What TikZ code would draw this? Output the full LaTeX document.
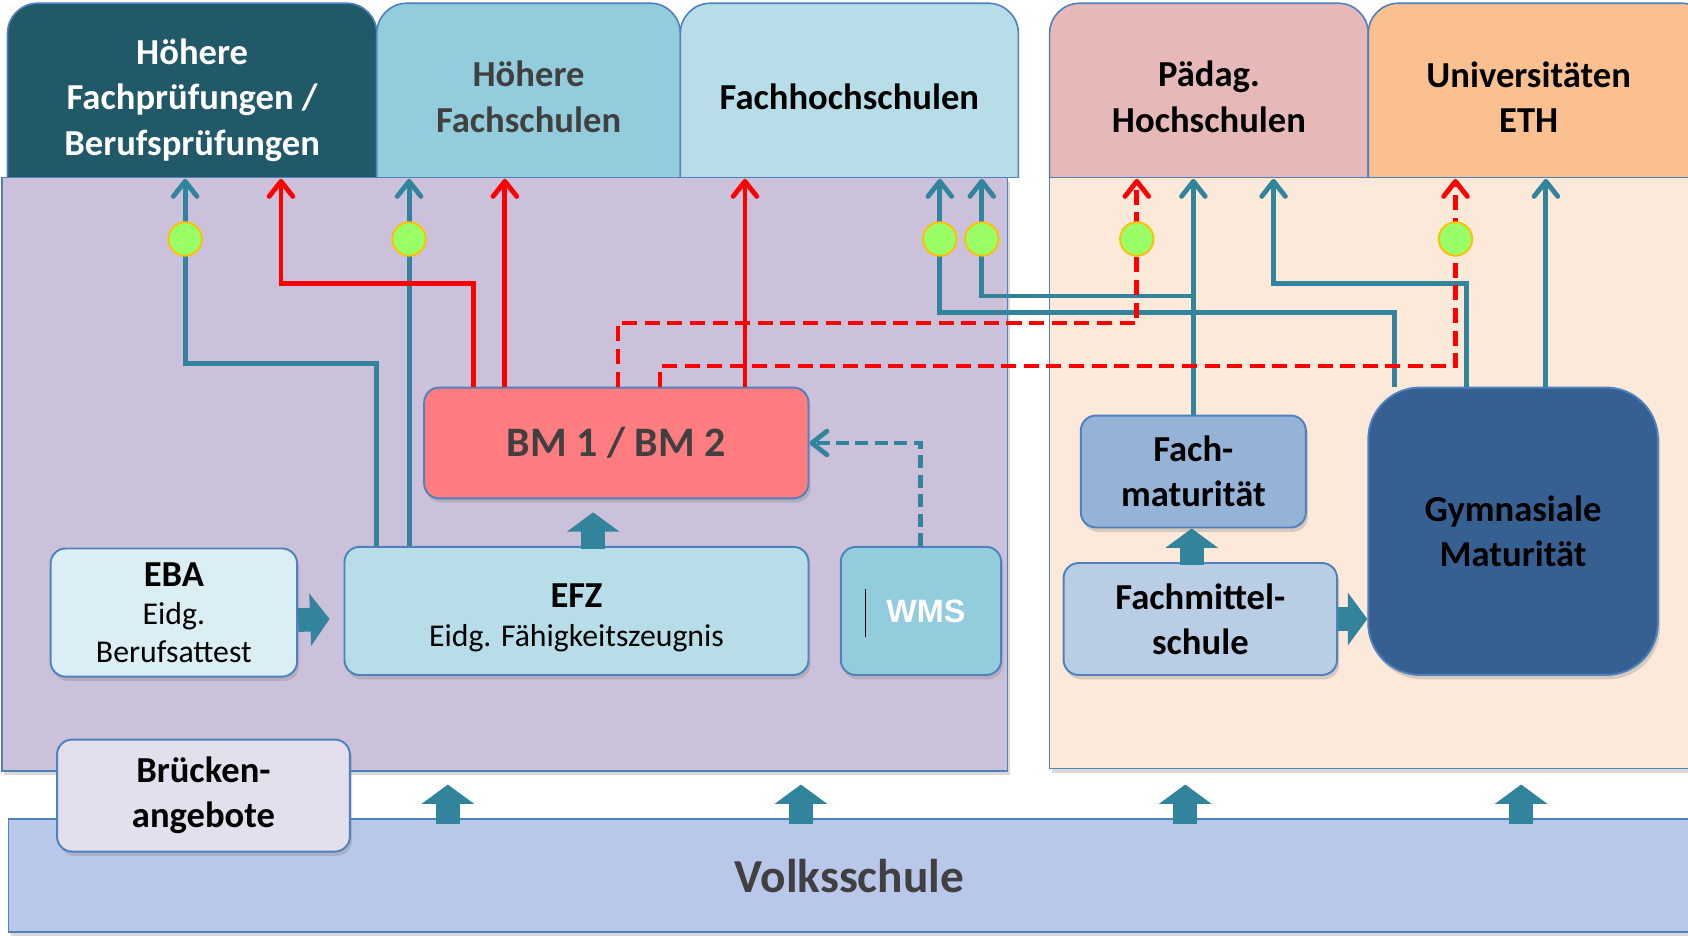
\documentclass[tikz,border=0pt]{standalone}
\usepackage{fontspec}
\setmainfont{Carlito}
\newfontfamily\wmsfont{Liberation Sans}
\usetikzlibrary{arrows.meta,shadows,calc,shapes.geometric}
\definecolor{tabA}{HTML}{215968}
\definecolor{tabB}{HTML}{93CDDD}
\definecolor{tabC}{HTML}{B7DEE8}
\definecolor{tabD}{HTML}{E6B9B8}
\definecolor{tabE}{HTML}{FAC090}
\definecolor{purp}{HTML}{CCC1DA}
\definecolor{peach}{HTML}{FDE9D9}
\definecolor{volkc}{HTML}{B9C7EA}
\definecolor{bruc}{HTML}{E4DFEC}
\definecolor{ebac}{HTML}{DBEEF4}
\definecolor{efzc}{HTML}{B7DEE8}
\definecolor{wmsc}{HTML}{93CDDD}
\definecolor{bmc}{HTML}{FF7C80}
\definecolor{fmc}{HTML}{95B3D7}
\definecolor{fmsc}{HTML}{B9CDE5}
\definecolor{gymc}{HTML}{376092}
\definecolor{bordc}{HTML}{4F81BD}
\definecolor{connc}{HTML}{31849B}
\definecolor{greenc}{HTML}{99FF66}
\definecolor{goldc}{HTML}{FFC000}
\definecolor{darkgr}{HTML}{404040}
\newcommand\bigf{\fontsize{34}{42}\selectfont\bfseries}
\begin{document}
\begin{tikzpicture}[x=1pt,y=-1pt,
  shade/.style={drop shadow={shadow xshift=2pt,shadow yshift=-4pt,opacity=0.3}},
  box/.style={draw=bordc, line width=1.8pt, rounded corners=14pt, align=center, inner sep=0pt, shade},
  panel/.style={draw=bordc, line width=1.5pt, inner sep=0pt, shade},
  tabline/.style={draw=bordc, line width=1.5pt},
  tabtext/.style={align=center, inner sep=0pt, font=\bigf},
  tip/.style={-{Straight Barb[length=14pt,width=22pt,round]}},
  tl/.style={draw=connc, line width=4.5pt, tip},
  tld/.style={draw=connc, line width=4.5pt, dash pattern=on 12pt off 6pt, tip},
  rl/.style={draw=red, line width=4.5pt, tip},
  rld/.style={draw=red, line width=4.5pt, dash pattern=on 14pt off 7pt, tip},
  gc/.style={circle, draw=goldc, fill=greenc, line width=1.8pt, minimum size=31pt, inner sep=0pt},
  fat/.style={draw=connc, line width=22pt, -{Triangle[length=18pt,width=48pt]}}
]
\useasboundingbox (0,0) rectangle (1568,869);

% Volksschule
\node[panel, fill=volkc, minimum width=1562pt, minimum height=105pt, font=\fontsize{44}{50}\selectfont\bfseries, text=darkgr] (volks) at (789,813.5) {Volksschule};

% panels
\node[panel, fill=purp, minimum width=934pt, minimum height=551pt] (pl) at (469,440.5) {};
\node[panel, fill=peach, minimum width=595pt, minimum height=549pt] (pr) at (1272.5,439.5) {};

% tabs
\foreach \xa/\xb/\col in {7/350/tabA, 350/632/tabB, 632/946/tabC, 975/1271/tabD, 1271/1590/tabE} {
  \begin{scope}
    \clip (\xa-3,0) rectangle (\xb+3,165);
    \draw[tabline, fill=\col, rounded corners=28pt] (\xa,3) rectangle (\xb,240);
  \end{scope}
  \draw[tabline] (\xa,165) -- (\xb,165);
}
\node[tabtext, text=white, minimum width=343pt, minimum height=146pt] (t1) at (178.5,93) {Höhere\\Fachprüfungen /\\Berufsprüfungen};
\node[tabtext, text=darkgr, minimum width=282pt, minimum height=152pt] (t2) at (491,90) {Höhere\\Fachschulen};
\node[tabtext, text=black, minimum width=314pt, minimum height=152pt] (t3) at (789,90) {Fachhochschulen};
\node[tabtext, text=black, minimum width=296pt, minimum height=152pt] (t4) at (1123,90) {Pädag.\\Hochschulen};
\node[tabtext, text=black, minimum width=298pt, minimum height=152pt] (t5) at (1420,90) {Universitäten\\ETH};

% boxes
\node[box, fill=bruc, minimum width=272pt, minimum height=104pt, font=\bigf] (bru) at (189,739) {Brücken-\\angebote};
\node[box, fill=ebac, minimum width=229pt, minimum height=119pt, font=\fontsize{29.5}{35}\selectfont] (eba) at (161.5,569) {{\fontsize{34}{36}\selectfont\bfseries EBA}\\[1pt]Eidg.\\Berufsattest};
\node[box, fill=efzc, minimum width=431pt, minimum height=119pt, font=\fontsize{29.5}{36}\selectfont] (efz) at (535.5,567.5) {{\fontsize{34}{36}\selectfont\bfseries\rule{0pt}{35pt}EFZ}\\Eidg. Fähigkeitszeugnis};
\node[box, fill=wmsc, minimum width=149pt, minimum height=119pt, text=white, font=\fontsize{30}{34}\selectfont\wmsfont\bfseries] (wms) at (855.5,567.5) {\hspace{9pt}WMS};
\draw[black, line width=0.8pt] ($(wms.west)+(24,-20)$) -- ($(wms.west)+(24,24)$);
\node[box, fill=bmc, minimum width=357pt, minimum height=103pt, text=darkgr, font=\fontsize{39}{44}\selectfont\bfseries] (bm) at (572.5,411.5) {BM 1 / BM 2};
\node[box, fill=fmc, minimum width=209pt, minimum height=104pt, font=\bigf] (fm) at (1108.5,438) {Fach-\\maturität};
\node[box, fill=fmsc, minimum width=254pt, minimum height=104pt, font=\bigf] (fms) at (1115,575) {Fachmittel-\\schule};
\node[box, fill=gymc, rounded corners=48pt, minimum width=269pt, minimum height=267pt, font=\bigf] (gym) at (1405.5,493.5) {Gymnasiale\\Maturität};

% teal connectors
\draw[tl] (350,0 |- efz.north) |- (172,338) -- (172,0 |- t1.south);
\draw[tl] (380,0 |- efz.north) -- (380,0 |- t2.south);
\draw[tl] (fm.north) -- (fm.north |- t4.south);
\draw[tl] (fm.north) |- (912,275) -- (912,0 |- t3.south);
\draw[tl] (1295,0 |- gym.north) |- (873,290) -- (873,0 |- t3.south);
\draw[tl] (1362,0 |- gym.north) |- (1183,263) -- (1183,0 |- t4.south);
\draw[tl] (1436,0 |- gym.north) -- (1436,0 |- t5.south);
\draw[tld] (855,0 |- wms.north) |- (bm.east);

% red connectors
\draw[rl] (440,0 |- bm.north) |- (261,263) -- (261,0 |- t1.south);
\draw[rl] (469,0 |- bm.north) -- (469,0 |- t2.south);
\draw[rl] (692,0 |- bm.north) -- (692,0 |- t3.south);
\draw[rld] (574,0 |- bm.north) |- (1056,300) -- (1056,0 |- t4.south);
\draw[rld] (613,0 |- bm.north) |- (1352,340) -- (1352,0 |- t5.south);

% green markers
\node[gc] (g1) at (172,222) {};
\node[gc] (g2) at (380,222) {};
\node[gc] (g3) at (873,222) {};
\node[gc] (g4) at (912,222) {};
\node[gc] (g5) at (1056,222) {};
\node[gc] (g6) at (1352,222) {};

% fat arrows
\draw[fat, shorten >=13pt] ([yshift=-7pt]eba.east) -- ([yshift=-7pt]efz.west);
\draw[fat] (fms.east) -- (fms.east -| gym.west);
\draw[fat] ($(551,0 |- efz.north)+(0,3)$) -- ($(551,0 |- bm.south)+(0,12)$);
\draw[fat] ($(1107,0 |- fms.north)+(0,3)$) -- (1107,0 |- fm.south);
\foreach \xx in {416,744,1101,1413} {
  \draw[fat] ($(\xx,0 |- volks.north)+(0,5)$) -- ($(\xx,0 |- pl.south)+(0,12)$);
}
\end{tikzpicture}
\end{document}
